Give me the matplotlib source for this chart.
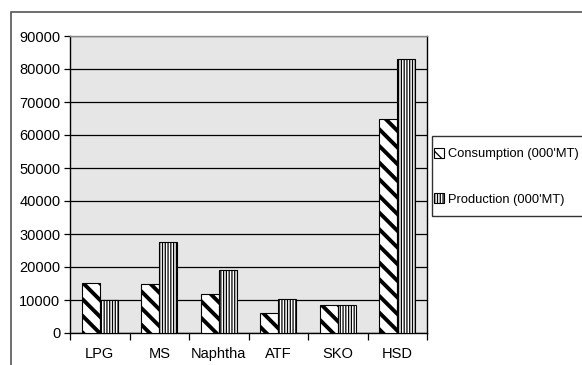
import matplotlib
matplotlib.use("Agg")
import matplotlib.pyplot as plt
from matplotlib.patches import Rectangle
import numpy as np

plt.rcParams['font.family'] = ['Liberation Sans', 'DejaVu Sans']

categories = ["LPG", "MS", "Naphtha", "ATF", "SKO", "HSD"]
consumption = [15300, 15000, 11700, 6000, 8400, 65000]
production = [10000, 27500, 19000, 10200, 8400, 83000]
series_labels = ["Consumption (000'MT)", "Production (000'MT)"]
yticks = list(range(0, 90001, 10000))

fig = plt.figure(figsize=(5.82, 3.65), dpi=100)
W, H = 582, 365

# outer chart frame
fig.patches.append(Rectangle((11 / W, -0.1), 1.2, 1 - 12 / H + 0.1,
                             transform=fig.transFigure, fill=False,
                             edgecolor='#555555', linewidth=1.2))

ax = fig.add_axes([70 / W, 32 / H, 357 / W, 297 / H])
ax.set_facecolor('#e6e6e6')

x = np.arange(len(categories))
bw = 0.3

plt.rcParams['hatch.linewidth'] = 2.8
b1 = ax.bar(x - bw / 2, consumption, bw, facecolor='white', edgecolor='black',
            hatch='\\\\', linewidth=0.8, label=series_labels[0], zorder=3)
plt.rcParams['hatch.linewidth'] = 0.9
b2 = ax.bar(x + bw / 2, production, bw, facecolor='white', edgecolor='black',
            hatch='||||||', linewidth=0.8, label=series_labels[1], zorder=3)

ax.set_xlim(-0.5, len(categories) - 0.5)
ax.set_ylim(0, 90000)
ax.set_yticks(yticks)
ax.set_yticklabels([str(v) for v in yticks], fontsize=10.5)
ax.yaxis.grid(True, color='black', linewidth=0.9, zorder=0)
ax.set_axisbelow(True)

# category boundaries as ticks, names centred between them
ax.set_xticks(np.arange(-0.5, len(categories), 1.0))
ax.set_xticklabels([])
ax.set_xticks(x, minor=True)
ax.set_xticklabels(categories, minor=True, fontsize=10.5)
ax.tick_params(axis='x', which='major', length=5, direction='out', width=0.9)
ax.tick_params(axis='x', which='minor', length=0, pad=10)
ax.tick_params(axis='y', length=4, direction='out', width=0.9, pad=3)

for s in ['left', 'bottom', 'right']:
    ax.spines[s].set_color('black')
    ax.spines[s].set_linewidth(1.0)
ax.spines['top'].set_color('#888888')
ax.spines['top'].set_linewidth(1.0)

# legend box running past the right edge of the chart frame
fig.patches.append(Rectangle((432 / W, 1 - 216 / H), 0.5, 80 / H,
                             transform=fig.transFigure, fill=False,
                             edgecolor='#333333', linewidth=1.0))
leg = ax.legend(loc='upper left', bbox_to_anchor=(434 / W, 1 - 148 / H),
                bbox_transform=fig.transFigure, fontsize=9.3,
                frameon=False,
                handlelength=0.78, handleheight=0.78, handletextpad=0.3,
                labelspacing=2.55, borderpad=0, borderaxespad=0)

fig.savefig("out.png", dpi=100)
